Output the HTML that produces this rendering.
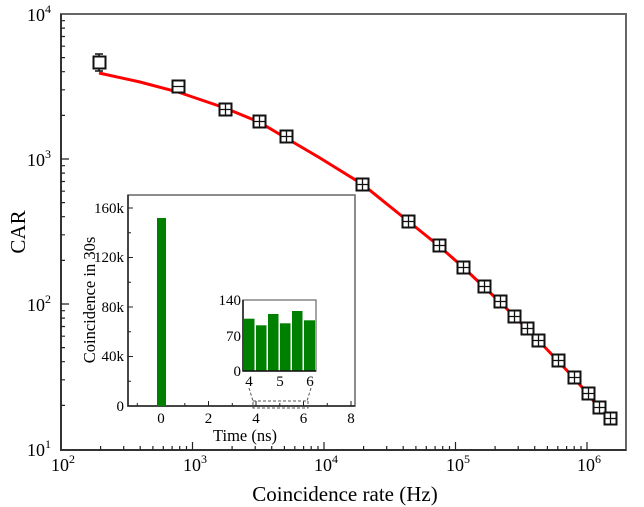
<!DOCTYPE html>
<html><head><meta charset="utf-8"><style>
body{margin:0;background:#fff}
svg{display:block;font-family:"Liberation Serif",serif}
</style></head><body>
<svg width="644" height="507" viewBox="0 0 644 507">
<rect width="644" height="507" fill="#fff"/>
<rect x="61" y="14" width="565" height="436" fill="none" stroke="#666" stroke-width="2"/>
<path d="M61 14V450H626" fill="none" stroke="#222" stroke-width="1.5"/>
<path stroke="#222" stroke-width="1.2" d="M192.5 450v-8M324 450v-8M455.5 450v-8M587 450v-8
M100.6 450v-4M123.7 450v-4M140.2 450v-4M152.9 450v-4M163.3 450v-4M172.1 450v-4M179.7 450v-4M186.5 450v-4
M232.1 450v-4M255.2 450v-4M271.7 450v-4M284.4 450v-4M294.8 450v-4M303.6 450v-4M311.2 450v-4M318 450v-4
M363.6 450v-4M386.7 450v-4M403.2 450v-4M415.9 450v-4M426.3 450v-4M435.1 450v-4M442.7 450v-4M449.5 450v-4
M495.1 450v-4M518.2 450v-4M534.7 450v-4M547.4 450v-4M557.8 450v-4M566.6 450v-4M574.2 450v-4M581 450v-4"/>
<path stroke="#222" stroke-width="1.2" d="M61 304h8M61 159h8
M61 405.4h4M61 379.8h4M61 361.7h4M61 347.6h4M61 336.2h4M61 326.5h4M61 318.1h4M61 310.7h4
M61 260.4h4M61 234.8h4M61 216.7h4M61 202.6h4M61 191.2h4M61 181.5h4M61 173.1h4M61 165.7h4
M61 115.4h4M61 89.8h4M61 71.7h4M61 57.6h4M61 46.2h4M61 36.5h4M61 28.1h4M61 20.7h4"/>
<g font-size="18" text-anchor="end">
<text x="51" y="21">10<tspan font-size="12" dy="-8">4</tspan></text>
<text x="51" y="166">10<tspan font-size="12" dy="-8">3</tspan></text>
<text x="51" y="311">10<tspan font-size="12" dy="-8">2</tspan></text>
<text x="51" y="456">10<tspan font-size="12" dy="-8">1</tspan></text>
</g>
<g font-size="18" text-anchor="middle">
<text x="63" y="471">10<tspan font-size="12" dy="-8">2</tspan></text>
<text x="195" y="471">10<tspan font-size="12" dy="-8">3</tspan></text>
<text x="326" y="471">10<tspan font-size="12" dy="-8">4</tspan></text>
<text x="458" y="471">10<tspan font-size="12" dy="-8">5</tspan></text>
<text x="589" y="471">10<tspan font-size="12" dy="-8">6</tspan></text>
</g>
<text x="345" y="501" font-size="21" text-anchor="middle">Coincidence rate (Hz)</text>
<text transform="translate(25 232) rotate(-90)" font-size="21" text-anchor="middle">CAR</text>
<polyline fill="none" stroke="#f00" stroke-width="3" points="99,73 140,82 178,92 225,108 259,122 286,138 320,158 362,184 408,221 439,246 464,268 484,287 500,302 515,317 527,329 539,341 558,361 574,378 588,394 599,408 610,419"/>
<g fill="none" stroke="#111" stroke-width="1.5">
<path d="M99 54v17M95 54h8M95 71h8"/>
</g>
<g fill="#fff" stroke="#111" stroke-width="2">
<rect x="93.5" y="56.5" width="12" height="12"/>
<rect x="172.5" y="80.5" width="12" height="12"/>
<rect x="219.5" y="103.5" width="12" height="12"/>
<rect x="253.5" y="115.5" width="12" height="12"/>
<rect x="280.5" y="130.5" width="12" height="12"/>
<rect x="356.5" y="178.5" width="12" height="12"/>
<rect x="402.5" y="215.5" width="12" height="12"/>
<rect x="433.5" y="239.5" width="12" height="12"/>
<rect x="457.5" y="261.5" width="12" height="12"/>
<rect x="478.5" y="280.5" width="12" height="12"/>
<rect x="494.5" y="295.5" width="12" height="12"/>
<rect x="508.5" y="310.5" width="12" height="12"/>
<rect x="521.5" y="322.5" width="12" height="12"/>
<rect x="532.5" y="334.5" width="12" height="12"/>
<rect x="552.5" y="354.5" width="12" height="12"/>
<rect x="568.5" y="371.5" width="12" height="12"/>
<rect x="582.5" y="387.5" width="12" height="12"/>
<rect x="593.5" y="401.5" width="12" height="12"/>
<rect x="604.5" y="412.5" width="12" height="12"/>
</g>
<path stroke="#111" stroke-width="1.3" d="
M172 86.5h13M219 109.5h13M225.5 104v11M253 121.5h13M259.5 116v11M280 136.5h13M286.5 131v11
M356 184.5h13M362.5 179v11M402 221.5h13M408.5 216v11M433 245.5h13M439.5 240v11M457 267.5h13M463.5 262v11
M478 286.5h13M484.5 281v11M494 301.5h13M500.5 296v11M508 316.5h13M514.5 311v11M521 328.5h13M527.5 323v11
M532 340.5h13M538.5 335v11M552 360.5h13M558.5 355v11M568 377.5h13M574.5 372v11M582 393.5h13M588.5 388v11
M593 407.5h13M599.5 402v11M604 418.5h13M610.5 413v11"/>
<rect x="128" y="195" width="227" height="211" fill="#fff" stroke="#666" stroke-width="1.5"/>
<path d="M128 195V406H355" fill="none" stroke="#222" stroke-width="1.5"/>
<path stroke="#222" stroke-width="1" d="M128 208h5M128 257.5h5M128 307h5M128 356.5h5M128 232.75h3M128 282.25h3M128 331.75h3M128 381.25h3
M161 406v-5M208.5 406v-5M256 406v-5M303.5 406v-5M351 406v-5M137.3 406v-3M184.8 406v-3M232.3 406v-3M279.8 406v-3M327.3 406v-3"/>
<rect x="157" y="218" width="9" height="188" fill="#008000"/>
<g font-size="15" text-anchor="end">
<text x="124" y="213">160k</text><text x="124" y="262">120k</text><text x="124" y="312">80k</text><text x="124" y="361">40k</text><text x="124" y="411">0</text>
</g>
<g font-size="15" text-anchor="middle">
<text x="161" y="423">0</text><text x="208.5" y="423">2</text><text x="256" y="423">4</text><text x="303.5" y="423">6</text><text x="351" y="423">8</text>
</g>
<text x="245" y="441" font-size="16.5" text-anchor="middle">Time (ns)</text>
<text transform="translate(95 300) rotate(-90)" font-size="16.5" text-anchor="middle">Coincidence in 30s</text>
<g fill="none" stroke="#555" stroke-width="1" stroke-dasharray="3,2">
<rect x="253" y="401" width="55" height="7"/>
<path d="M249 388L253 401M311 388L307 401"/>
</g>
<rect x="243" y="300" width="73" height="71" fill="#fff" stroke="#666" stroke-width="1.2"/>
<g fill="#008000">
<rect x="244" y="318.7" width="10.5" height="52.3"/>
<rect x="256" y="325.3" width="10.5" height="45.7"/>
<rect x="268" y="314" width="10.5" height="57"/>
<rect x="280" y="323.3" width="10.5" height="47.7"/>
<rect x="292" y="311" width="10.5" height="60"/>
<rect x="304" y="320.3" width="11" height="50.7"/>
</g>
<path d="M243 300V371H316" fill="none" stroke="#111" stroke-width="1.5"/>
<g font-size="15" text-anchor="end">
<text x="241" y="305">140</text><text x="241" y="341">70</text><text x="241" y="376">0</text>
</g>
<g font-size="15" text-anchor="middle">
<text x="249" y="386">4</text><text x="280" y="386">5</text><text x="310" y="386">6</text>
</g>
</svg>
</body></html>
